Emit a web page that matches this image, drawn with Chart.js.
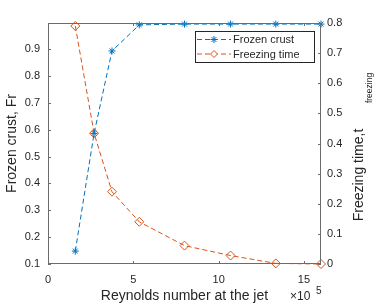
<!DOCTYPE html>
<html>
<head>
<meta charset="utf-8">
<script src="https://cdn.jsdelivr.net/npm/chart.js@4.4.1/dist/chart.umd.min.js"></script>
<style>
  html, body { margin: 0; padding: 0; background: #fff; }
  #wrap { width: 374px; height: 305px; }
</style>
</head>
<body>
<div id="wrap"><canvas id="chart" width="374" height="305"></canvas></div>
<script>
// Reynolds number (x 10^5)
const reynolds = [1.6, 2.7, 3.75, 5.35, 8.0, 10.7, 13.35, 16.0];
const frozenCrust = [0.148, 0.586, 0.893, 0.99, 0.993, 0.993, 0.993, 0.993];
const freezingTime = [0.79, 0.434, 0.24, 0.14, 0.061, 0.028, 0.002, 0.0];

const xTicks = [0, 5, 10, 15];
const leftTicks = [0.1, 0.2, 0.3, 0.4, 0.5, 0.6, 0.7, 0.8, 0.9];
const rightTicks = [0, 0.1, 0.2, 0.3, 0.4, 0.5, 0.6, 0.7, 0.8];

const axisColor = '#262626';
const boxColor = '#6b6b6b';
const blue = '#0072BD';
const orange = '#D95319';
const fontFamily = '"Liberation Sans", Arial, Helvetica, sans-serif';

const toPoints = (ys) => reynolds.map((x, i) => ({ x: x, y: ys[i] }));

// box, inward tick marks, legend, right title and exponent
const matlabAxes = {
    id: 'matlabAxes',
    afterDraw(chart) {
        const ctx = chart.ctx;
        const a = chart.chartArea;
        const xs = chart.scales.x;
        const yl = chart.scales.yL;
        const yr = chart.scales.yR;
        const tl = 3;

        ctx.save();
        ctx.strokeStyle = boxColor;
        ctx.lineWidth = 1;
        ctx.strokeRect(a.left + 0.5, a.top + 0.5, a.right - a.left - 1, a.bottom - a.top - 1);

        ctx.beginPath();
        xTicks.forEach(v => {
            const px = Math.round(xs.getPixelForValue(v)) + 0.5;
            ctx.moveTo(px, a.bottom); ctx.lineTo(px, a.bottom - tl);
            ctx.moveTo(px, a.top); ctx.lineTo(px, a.top + tl);
        });
        leftTicks.forEach(v => {
            const py = Math.round(yl.getPixelForValue(v)) + 0.5;
            ctx.moveTo(a.left, py); ctx.lineTo(a.left + tl, py);
        });
        rightTicks.forEach(v => {
            const py = Math.round(yr.getPixelForValue(v)) + 0.5;
            ctx.moveTo(a.right, py); ctx.lineTo(a.right - tl, py);
        });
        ctx.stroke();

        // legend
        const lx = 195, ly = 31, lw = 119, lh = 31;
        ctx.fillStyle = '#fff';
        ctx.fillRect(lx, ly, lw, lh);
        ctx.strokeStyle = '#262626';
        ctx.strokeRect(lx + 0.5, ly + 0.5, lw, lh);
        const entries = [
            { label: 'Frozen crust', color: blue, style: 'star', y: 39.5 },
            { label: 'Freezing time', color: orange, style: 'rectRot', y: 54 }
        ];
        entries.forEach(e => {
            ctx.strokeStyle = e.color;
            ctx.lineWidth = 1;
            ctx.setLineDash([5, 3]);
            ctx.beginPath();
            ctx.moveTo(197, e.y); ctx.lineTo(231, e.y);
            ctx.stroke();
            ctx.setLineDash([]);
            ctx.fillStyle = '#fff';
            Chart.helpers.drawPoint(ctx, { pointStyle: e.style, radius: 3.5, borderWidth: 1 }, 214, e.y);
            ctx.fillStyle = axisColor;
            ctx.font = '11px ' + fontFamily;
            ctx.textAlign = 'left';
            ctx.textBaseline = 'middle';
            ctx.fillText(e.label, 233, e.y + 0.5);
        });

        // right axis title with subscript
        ctx.fillStyle = axisColor;
        ctx.save();
        ctx.translate(359, 175);
        ctx.rotate(-Math.PI / 2);
        ctx.font = '14px ' + fontFamily;
        ctx.textAlign = 'center';
        ctx.textBaseline = 'middle';
        ctx.fillText('Freezing time,t', 0, 0);
        ctx.restore();
        ctx.save();
        ctx.translate(369.5, 88);
        ctx.rotate(-Math.PI / 2);
        ctx.font = '8.5px ' + fontFamily;
        ctx.textAlign = 'center';
        ctx.textBaseline = 'middle';
        ctx.fillText('freezing', 0, 0);
        ctx.restore();

        // x exponent
        ctx.font = '12px ' + fontFamily;
        ctx.textAlign = 'left';
        ctx.textBaseline = 'middle';
        ctx.fillText('\u00d710', 290, 297);
        ctx.font = '10px ' + fontFamily;
        ctx.fillText('5', 316, 291);
        ctx.restore();
    }
};

new Chart(document.getElementById('chart'), {
    type: 'line',
    data: {
        datasets: [
            {
                label: 'Frozen crust',
                data: toPoints(frozenCrust),
                yAxisID: 'yL',
                borderColor: blue,
                backgroundColor: blue,
                borderWidth: 1,
                borderDash: [5, 3],
                pointStyle: 'star',
                pointRadius: 3.5,
                pointBorderWidth: 1,
                tension: 0,
                clip: false
            },
            {
                label: 'Freezing time',
                data: toPoints(freezingTime),
                yAxisID: 'yR',
                borderColor: orange,
                backgroundColor: 'rgba(255,255,255,0)',
                borderWidth: 1,
                borderDash: [5, 3],
                pointStyle: 'rectRot',
                pointRadius: 4.5,
                pointBorderWidth: 1,
                tension: 0,
                clip: false
            }
        ]
    },
    options: {
        responsive: false,
        animation: false,
        layout: { padding: { top: 23, left: 0, right: 0, bottom: 0 } },
        plugins: { legend: { display: false }, tooltip: { enabled: false } },
        scales: {
            x: {
                type: 'linear',
                min: 0,
                max: 16,
                grid: { display: false, drawTicks: false },
                border: { display: false },
                afterBuildTicks: (s) => { s.ticks = xTicks.map(v => ({ value: v })); },
                afterFit: (s) => { s.height = 41; },
                ticks: { padding: 9, color: axisColor, font: { family: fontFamily, size: 11 } },
                title: {
                    display: true,
                    text: 'Reynolds number at the jet',
                    color: axisColor,
                    font: { family: fontFamily, size: 14 },
                    padding: { top: 0, bottom: 0 }
                }
            },
            yL: {
                type: 'linear',
                position: 'left',
                min: 0.1,
                max: 0.997,
                grid: { display: false, drawTicks: false },
                border: { display: false },
                afterBuildTicks: (s) => { s.ticks = leftTicks.map(v => ({ value: v })); },
                afterFit: (s) => { s.width = 48; },
                ticks: { padding: 8, color: axisColor, font: { family: fontFamily, size: 11 }, callback: (v) => v.toFixed(1) },
                title: {
                    display: true,
                    text: 'Frozen crust, Fr',
                    color: axisColor,
                    font: { family: fontFamily, size: 14 },
                    padding: { top: 4, bottom: 0 }
                }
            },
            yR: {
                type: 'linear',
                position: 'right',
                min: 0,
                max: 0.8,
                grid: { display: false, drawTicks: false },
                border: { display: false },
                afterBuildTicks: (s) => { s.ticks = rightTicks.map(v => ({ value: v })); },
                afterFit: (s) => { s.width = 53; },
                ticks: { padding: 6, color: axisColor, font: { family: fontFamily, size: 11 }, callback: (v) => v === 0 ? '0' : v.toFixed(1) }
            }
        }
    },
    plugins: [matlabAxes]
});
</script>
</body>
</html>
